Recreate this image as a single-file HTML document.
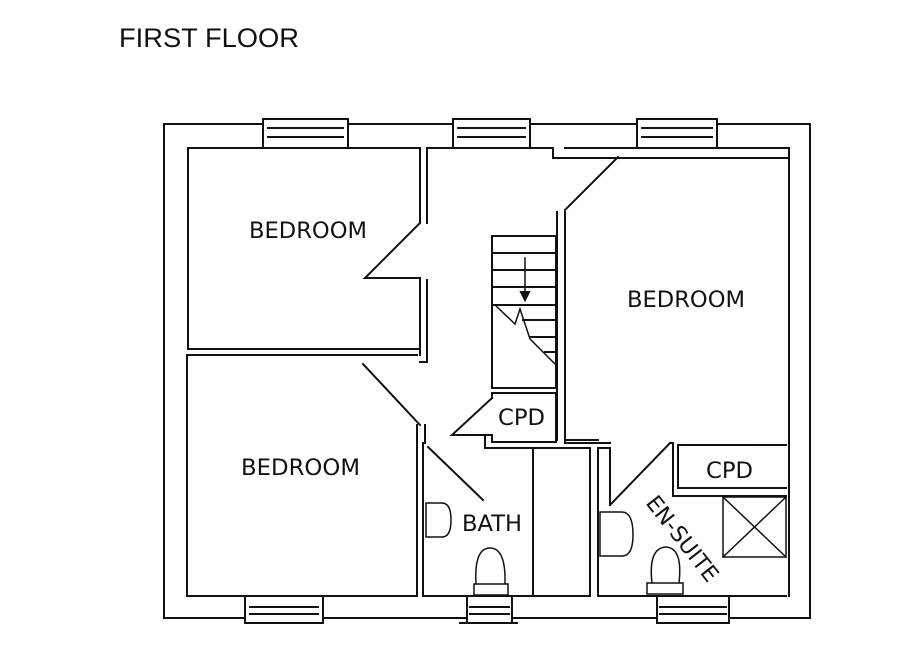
<!DOCTYPE html>
<html><head><style>
html,body{margin:0;padding:0;background:#fff;}
svg{display:block}
text{font-family:"DejaVu Sans","Liberation Sans",sans-serif;fill:#111}
</style></head><body>
<svg width="903" height="666" viewBox="0 0 903 666" xmlns="http://www.w3.org/2000/svg">
<rect width="903" height="666" fill="#fff"/>
<text x="119" y="47" font-size="27" style="font-family:'Liberation Sans',sans-serif" textLength="180" lengthAdjust="spacingAndGlyphs">FIRST FLOOR</text>
<g stroke="#111" stroke-width="2" fill="none" stroke-linecap="square">
<path d="M263,124 H164 V618 H245 M323,618 H467 M512,618 H657 M729,618 H810 V124 H717 M637,124 H530 M453,124 H348"/>
<path d="M263,119 V148 M348,119 V148 M263,119 H348 M268,128 H343 M268,137 H343"/>
<path d="M453,119 V148 M530,119 V148 M453,119 H530 M458,128 H525 M458,137 H525"/>
<path d="M637,119 V148 M717,119 V148 M637,119 H717 M642,128 H712 M642,137 H712"/>
<path d="M245,597 V623 M323,597 V623 M245,623 H323 M250,607 H318 M250,614 H318"/>
<path d="M467,597 V623 M512,597 V623 M460,623 H517 M470,607 H509 M470,614 H509"/>
<path d="M657,597 V623 M729,597 V623 M657,623 H729 M660,607 H726 M660,614 H726"/>
<path d="M188,148 H420 V223 L365,278 H420 V355 M188,148 V349 H420 M427,148 V223 M427,280 V362 H420"/>
<path d="M187,355 H417 M187,355 V596 H417 V425 M363,364 L420,425 M425,425 V443"/>
<path d="M427,148 H553 M553,148 V158 H618 M565,158 H789 M565,148 H789 M618,157 L565,210"/>
<path d="M789,148 V596"/>
<path d="M557,212 V440 M565,212 V440 H598 M565,440 V443 H610"/>
<path d="M492,236 H556 V388 H492 Z M492,253 H556 M492,270 H556 M492,287 H556 M492,305 H556 M523,320 H556 M530,337 H556 M545,352 H556"/>
<path d="M495,305 L515,324 L520,309 L530,339 L556,365" stroke-width="1.5"/>
<path d="M525,258 V294" stroke-width="1.5"/>
<path d="M521,292 L525,300 L529,292 Z" fill="#111"/>
<path d="M492,393 H556 V442 H492 V437 M492,398 V393 M492,398 L452,435 H492"/>
<path d="M423,443 V596 H590 V448 H485 V437 M428,447 L483,500 M533,448 V596" />
<path d="M598,448 V596 H786 M598,448 H610 V505 M670,443 L610,505 M670,443 H673 V496 H786 M678,445 H786 M678,445 V488 H786"/>
<path d="M723,497 H786 V557 H723 Z M723,497 L786,557 M786,497 L723,557" stroke-width="1.5"/>
<path d="M695,445 H745" stroke-width="1.5"/>
<path d="M426,503 H442 Q451,503 451,520 Q451,537 442,537 H426 Z" stroke-width="1.5"/>
<path d="M600,512 H622 Q633,512 633,535 Q633,556 622,556 H600 Z" stroke-width="1.5"/>
<path d="M476,584 Q474,548 490,548 Q506,548 505,584 Z M474,584 H508 V595 H474 Z" stroke-width="1.5"/>
<path d="M652,583 Q648,548 666,547 Q683,548 679,583 Z M647,583 H683 V594 H647 Z" stroke-width="1.5"/>
</g>
<text x="249" y="238" font-size="22" textLength="118" lengthAdjust="spacingAndGlyphs">BEDROOM</text>
<text x="627" y="307" font-size="22" textLength="118" lengthAdjust="spacingAndGlyphs">BEDROOM</text>
<text x="241" y="475" font-size="22" textLength="119" lengthAdjust="spacingAndGlyphs">BEDROOM</text>
<text x="498" y="425" font-size="22" textLength="47" lengthAdjust="spacingAndGlyphs">CPD</text>
<text x="706" y="478" font-size="22" textLength="47" lengthAdjust="spacingAndGlyphs">CPD</text>
<text x="462" y="531" font-size="22" textLength="60" lengthAdjust="spacingAndGlyphs">BATH</text>
<text x="0" y="0" font-size="22" transform="translate(645,503) rotate(52)">EN-SUITE</text>
</svg>
</body></html>
